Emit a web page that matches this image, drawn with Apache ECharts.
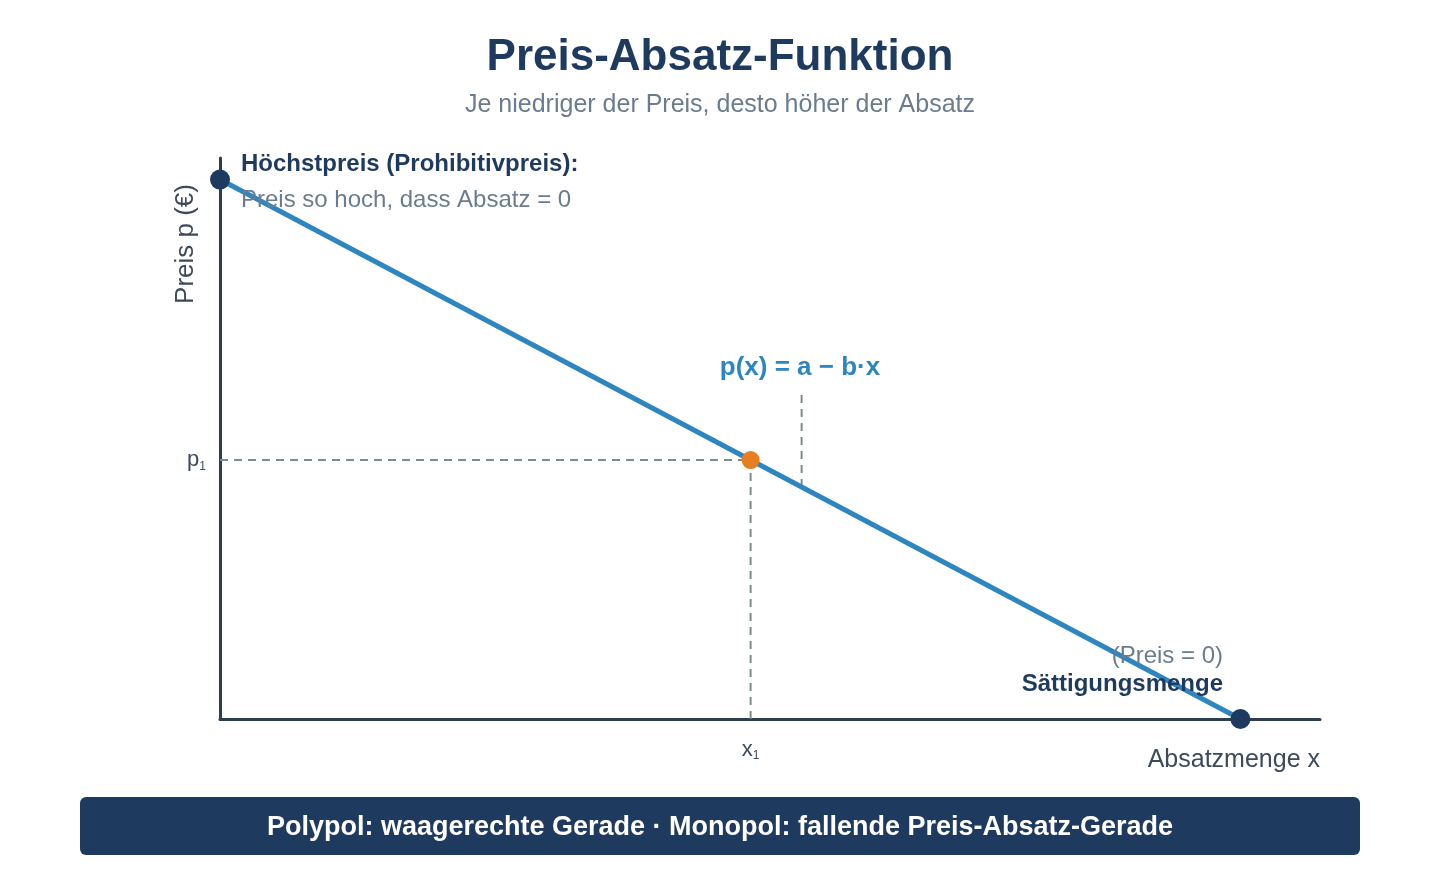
<!DOCTYPE html>
<html><head><meta charset="utf-8">
<script src="https://cdn.jsdelivr.net/npm/echarts@6/dist/echarts.min.js"></script>
<style>html,body{margin:0;padding:0;background:#fff}#c{width:1440px;height:880px}</style>
</head><body><div id="c"></div>
<script>
// Data
const demandLine = [[0, 100], [100, 0]];     // Höchstpreis a=100, Sättigungsmenge 100
const endpoints = [[0, 100], [100, 0]];
const point1 = [[52, 48]];                   // (x1, p1)
const p1Guide = [[0, 48], [52, 48]];
const x1Guide = [[52, 0], [52, 48]];
const formulaLeader = [[57, 43], [57, 61]];
const xTickValues = [52];
const yTickValues = [48];
const xMax = 107.8, yMax = 104;

const navy = '#1f3a5f', blue = '#2e86c1', grayT = '#6b7c8f', axisC = '#2c3e50', dashC = '#7f8c8d';
const FF = '"Liberation Sans", Arial, sans-serif';

const chart = echarts.init(document.getElementById('c'));
chart.setOption({
  backgroundColor: '#fff',
  animation: false,
  textStyle: { fontFamily: FF },
  title: [
    { text: 'Preis-Absatz-Funktion', left: 'center', top: 31,
      textStyle: { fontSize: 44, fontWeight: 'bold', color: navy, fontFamily: FF } },
    { text: 'Je niedriger der Preis, desto höher der Absatz', left: 'center', top: 88,
      textStyle: { fontSize: 25, fontWeight: 'normal', color: grayT, fontFamily: FF } }
  ],
  grid: { left: 220, right: 120, top: 158, bottom: 161 },
  xAxis: {
    type: 'value', min: 0, max: xMax,
    axisLine: { show: true, lineStyle: { color: axisC, width: 3 } },
    axisTick: { show: false }, splitLine: { show: false },
    axisLabel: {
      customValues: xTickValues, margin: 18,
      formatter: () => '{m|x}{s|1}',
      rich: { m: { fontSize: 22, color: '#3d4a5a', fontFamily: FF }, s: { fontSize: 12, color: '#3d4a5a', padding: [13, 0, 0, 0], fontFamily: FF } }
    }
  },
  yAxis: {
    type: 'value', min: 0, max: yMax,
    axisLine: { show: true, lineStyle: { color: axisC, width: 3 } },
    axisTick: { show: false }, splitLine: { show: false },
    axisLabel: {
      customValues: yTickValues, margin: 14,
      formatter: () => '{m|p}{s|1}',
      rich: { m: { fontSize: 22, color: '#3d4a5a', fontFamily: FF }, s: { fontSize: 12, color: '#3d4a5a', padding: [13, 0, 0, 0], fontFamily: FF } }
    }
  },
  series: [
    { type: 'line', data: p1Guide, symbol: 'none', lineStyle: { color: dashC, width: 2, type: [8, 6] }, z: 1 },
    { type: 'line', data: x1Guide, symbol: 'none', lineStyle: { color: dashC, width: 2, type: [8, 6] }, z: 1 },
    { type: 'line', data: formulaLeader, symbol: 'none', lineStyle: { color: dashC, width: 2, type: [8, 6] }, z: 1 },
    { type: 'line', data: demandLine, symbol: 'none', lineStyle: { color: blue, width: 5 }, z: 3 },
    { type: 'scatter', data: endpoints, symbolSize: 20, itemStyle: { color: navy, opacity: 1 }, z: 5 },
    { type: 'scatter', data: point1, symbolSize: 18, itemStyle: { color: '#e67e22', opacity: 1 }, z: 5 }
  ],
  graphic: [
    { type: 'text', x: 241, y: 164, z: 10, style: { text: 'Höchstpreis (Prohibitivpreis):', font: 'bold 24px ' + FF, fill: navy, verticalAlign: 'middle' } },
    { type: 'text', x: 241, y: 200, z: 10, style: { text: 'Preis so hoch, dass Absatz = 0', font: '24px ' + FF, fill: grayT, verticalAlign: 'middle' } },
    { type: 'text', x: 800, y: 368, z: 10, style: { text: 'p(x) = a − b·x', font: 'bold 26px ' + FF, fill: blue, align: 'center', verticalAlign: 'middle' } },
    { type: 'text', x: 1223, y: 656, z: 10, style: { text: '(Preis = 0)', font: '24px ' + FF, fill: grayT, align: 'right', verticalAlign: 'middle' } },
    { type: 'text', x: 1223, y: 684, z: 10, style: { text: 'Sättigungsmenge', font: 'bold 24px ' + FF, fill: navy, align: 'right', verticalAlign: 'middle' } },
    { type: 'text', x: 1320, y: 760, z: 10, style: { text: 'Absatzmenge x', font: '25px ' + FF, fill: '#3d4a5a', align: 'right', verticalAlign: 'middle' } },
    { type: 'text', x: 186, y: 244, rotation: Math.PI / 2, z: 10, style: { text: 'Preis p (€)', font: '26px ' + FF, fill: '#3d4a5a', align: 'center', verticalAlign: 'middle' } },
    { type: 'rect', shape: { x: 80, y: 797, width: 1280, height: 58, r: 6 }, style: { fill: navy }, z: 10 },
    { type: 'text', x: 720, y: 828, z: 11, style: { text: 'Polypol: waagerechte Gerade · Monopol: fallende Preis-Absatz-Gerade', font: 'bold 27px ' + FF, fill: '#fff', align: 'center', verticalAlign: 'middle' } }
  ]
});
</script></body></html>
